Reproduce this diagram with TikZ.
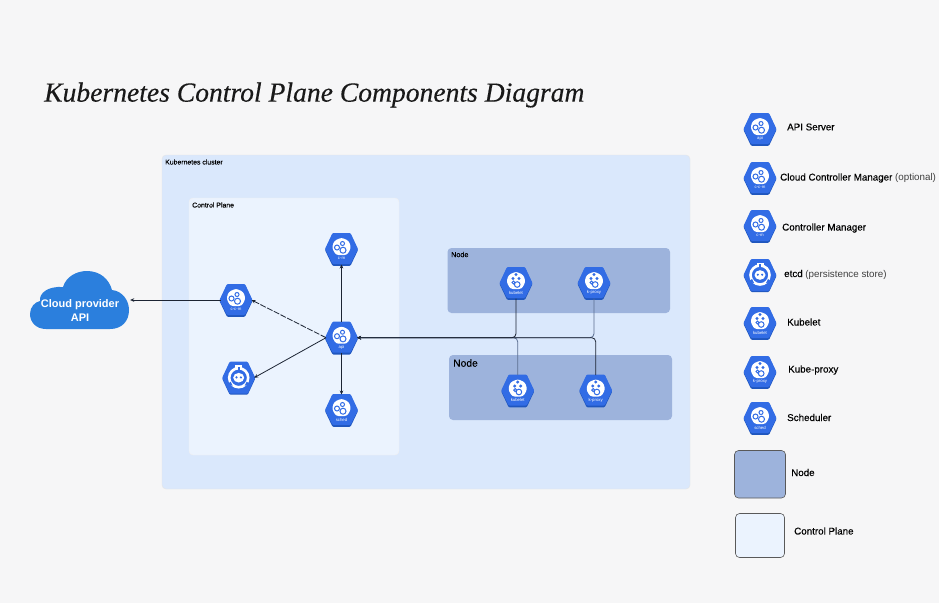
\documentclass[tikz,border=0pt]{standalone}
\usepackage{fontspec}
\setmainfont{Liberation Sans}
\newfontfamily\titlefont{Liberation Serif}
\usetikzlibrary{arrows.meta}
\definecolor{bgc}{HTML}{F6F6F7}
\definecolor{clusterc}{HTML}{DAE8FC}
\definecolor{planec}{HTML}{EBF3FE}
\definecolor{nodec}{HTML}{9DB3DC}
\definecolor{hexc}{HTML}{326CE5}
\definecolor{hexd}{HTML}{1F56BE}
\definecolor{cloudc}{HTML}{2B7FDD}
\definecolor{linec}{HTML}{1C2433}
\definecolor{lineg}{HTML}{5B6E90}
\newcommand{\med}{\addfontfeature{FakeBold=0.25}}
\tikzset{
  x=1pt,y=-1pt,
  region/.style={rounded corners=4pt},
  lab/.style={anchor=west,font=\fontsize{9.8}{11}\selectfont,text=black,inner sep=0pt},
  boxlab/.style={anchor=west,inner sep=0pt,text=black},
  conn/.style={linec,line width=0.8pt,-{Stealth[length=4pt,width=3.6pt]}},
  hub/.style={circle,minimum size=31pt,inner sep=0pt,outer sep=0pt},
  gear/.style={draw=hexc,fill=white,line width=1pt},
  tinylab/.style={text=white,font=\fontsize{4.3}{4.5}\selectfont,inner sep=0pt}
}
\newcommand{\hexbody}[2]{%
  \fill[hexd,rounded corners=1pt] (#1-9,#2-15) -- (#1+9,#2-15) -- (#1+16.5,#2+1) -- (#1+9,#2+16.8) -- (#1-9,#2+16.8) -- (#1-16.5,#2+1) -- cycle;
  \fill[hexc,rounded corners=1pt] (#1-9,#2-16) -- (#1+9,#2-16) -- (#1+16.5,#2) -- (#1+9,#2+15) -- (#1-9,#2+15) -- (#1-16.5,#2) -- cycle;
}
\newcommand{\blob}[2]{%
  \fill[white,rounded corners=2.5pt] (#1,#2-11.5) -- (#1+7.5,#2-8) -- (#1+9.5,#2-1) -- (#1+5.5,#2+6) -- (#1-5.5,#2+6) -- (#1-9.5,#2-1) -- (#1-7.5,#2-8) -- cycle;
}
\newcommand{\gearicon}[4]{%
  \hexbody{#2}{#3}\blob{#2}{#3}
  \draw[gear] (#2-4.5,#3-1.5) circle (2.5);
  \draw[gear] (#2+1,#3-5.5) circle (2);
  \draw[gear] (#2+1.5,#3+1.2) circle (3);
  \node[hub] (#1) at (#2,#3) {};
  \node[tinylab] (#1t) at (#2,#3+9.5) {#4};
}
\newcommand{\kubeicon}[4]{%
  \hexbody{#2}{#3}\blob{#2}{#3}
  \fill[hexc] (#2,#3-8.5) circle (1.7);
  \fill[hexc] (#2-3,#3-4.5) circle (1.7);
  \fill[hexc] (#2+3,#3-4.5) circle (1.7);
  \draw[gear] (#2-2.5,#3-0.5) circle (1.5);
  \draw[gear] (#2+1.2,#3+1.5) circle (2.8);
  \node[hub] (#1) at (#2,#3) {};
  \node[tinylab] (#1t) at (#2,#3+9.5) {#4};
}
\newcommand{\etcdicon}[3]{%
  \fill[hexd,rounded corners=1pt] (#2-9,#3-15) -- (#2+9,#3-15) -- (#2+16.5,#3+1) -- (#2+9,#3+17) -- (#2-9,#3+17) -- (#2-16.5,#3+1) -- cycle;
  \fill[hexc,rounded corners=1pt] (#2-9,#3-16) -- (#2+9,#3-16) -- (#2+16.5,#3) -- (#2+9,#3+16) -- (#2-9,#3+16) -- (#2-16.5,#3) -- cycle;
  \draw[white,line width=2.6pt] (#2,#3) circle (9.5);
  \fill[white] (#2-3.5,#3-12.5) rectangle (#2+3.5,#3-9);
  \fill[hexc] (#2-1.2,#3-11) rectangle (#2+1.2,#3-7);
  \fill[hexc] (#2-12,#3+7) -- (#2-8,#3+4) -- (#2-6,#3+8) -- cycle;
  \fill[hexc] (#2+12,#3+7) -- (#2+8,#3+4) -- (#2+6,#3+8) -- cycle;
  \fill[white] (#2,#3) ellipse (5.5 and 4.8);
  \fill[hexc] (#2-2.2,#3-0.3) circle (1.2);
  \fill[hexc] (#2+2.2,#3-0.3) circle (1.2);
  \node[hub] (#1) at (#2,#3) {};
}
\begin{document}
\begin{tikzpicture}
\useasboundingbox (0,0) rectangle (939,603);
\fill[bgc] (0,0) rectangle (939,603);
% title
\node[anchor=west,inner sep=0pt,font=\titlefont\itshape\fontsize{27.6}{32}\selectfont\addfontfeature{FakeBold=0.3},text=black!90] (title) at (44,95) {Kubernetes Control Plane Components Diagram};
% regions
\path[region,fill=clusterc,draw=black!10,line width=0.4pt] (162,155) rectangle (690,489);
\path[region,fill=planec,draw=black!6,line width=0.4pt] (189,198) rectangle (399,455);
\path[region,fill=nodec] (447.5,248) rectangle (670,313);
\path[region,fill=nodec] (449,355) rectangle (672,420);
\node[boxlab,font=\fontsize{6.9}{8}\selectfont\med] (lcluster) at (165,162) {Kubernetes cluster};
\node[boxlab,font=\fontsize{6.9}{8}\selectfont\med] (lplane) at (192,205) {Control Plane};
\node[boxlab,font=\fontsize{7.2}{8}\selectfont\med] (lnode1) at (451,254.5) {Node};
\node[boxlab,font=\fontsize{10.3}{12}\selectfont\med] (lnode2) at (453,363) {Node};
% cloud
\fill[cloudc] (46,329) .. controls (36,329) and (30,322) .. (30,314)
  .. controls (30,307) and (35,302) .. (40,301)
  .. controls (39,293) and (48,286) .. (63,287)
  .. controls (66,277) and (76,271) .. (87,271)
  .. controls (100,271) and (109,279) .. (112,290)
  .. controls (122,291) and (129,300) .. (129,310)
  .. controls (129,321) and (122,329) .. (110,329) -- cycle;
\node[align=center,text=white,inner sep=0pt,minimum width=100pt,font=\fontsize{11}{14}\selectfont\bfseries] (cloud) at (80,311) {Cloud provider\\API};
% icons in diagram
\gearicon{api}{341.5}{337.7}{api}
\gearicon{cm}{341.5}{249}{c-m}
\gearicon{ccm}{236}{300}{c-c-m}
\etcdicon{etcd}{238.7}{377.7}
\gearicon{sched}{341.5}{410}{sched}
\kubeicon{kla}{516}{283}{kubelet}
\kubeicon{kpa}{594}{283}{k-proxy}
\kubeicon{klb}{517.7}{390.5}{kubelet}
\kubeicon{kpb}{595.7}{390.5}{k-proxy}
% connectors
\draw[conn] (ccm.west) -- (ccm.west -| cloud.east);
\draw[conn] (api.north) -- (cm.south);
\draw[conn] (api.south) -- (sched.north);
\draw[conn,dash pattern=on 6pt off 1.5pt] (api.west) -- (ccm.east);
\draw[conn] (api.west) -- (etcd.east);
\draw[conn,lineg,rounded corners=4pt] (klb.north) |- (api.east);
\draw[conn,lineg,rounded corners=4pt] (kpa.south) |- (api.east);
\draw[conn,rounded corners=4pt] (kla.south) |- (api.east);
\draw[conn,rounded corners=4pt] (kpb.north) |- (api.east);
% legend
\gearicon{lapi}{760}{129}{api}
\gearicon{lccm}{760}{178}{c-c-m}
\gearicon{lcm}{760}{226}{c-m}
\etcdicon{letcd}{760}{275}
\kubeicon{lkl}{760}{323}{kubelet}
\kubeicon{lkp}{760}{372}{k-proxy}
\gearicon{lsched}{760}{418}{sched}
\path[draw=black!65,line width=0.6pt,fill=nodec,rounded corners=4pt] (734.5,450.5) rectangle (785.5,498);
\path[draw=black!65,line width=0.6pt,fill=planec,rounded corners=4pt] (735.5,513.5) rectangle (784.5,557.5);
\node[lab] (t1) at (787,127) {\med API Server};
\node[lab] (t2) at (780,178) {{\med Cloud Controller Manager} \textcolor{black!75}{(optional)}};
\node[lab] (t3) at (782,228) {\med Controller Manager};
\node[lab] (t4) at (784,274.5) {{\med etcd} \textcolor{black!75}{(persistence store)}};
\node[lab] (t5) at (787,322) {\med Kubelet};
\node[lab] (t6) at (788,370) {\med Kube-proxy};
\node[lab] (t7) at (787,417.5) {\med Scheduler};
\node[lab] (t8) at (791,472.5) {\med Node};
\node[lab] (t9) at (794,531) {\med Control Plane};
\end{tikzpicture}
\end{document}
